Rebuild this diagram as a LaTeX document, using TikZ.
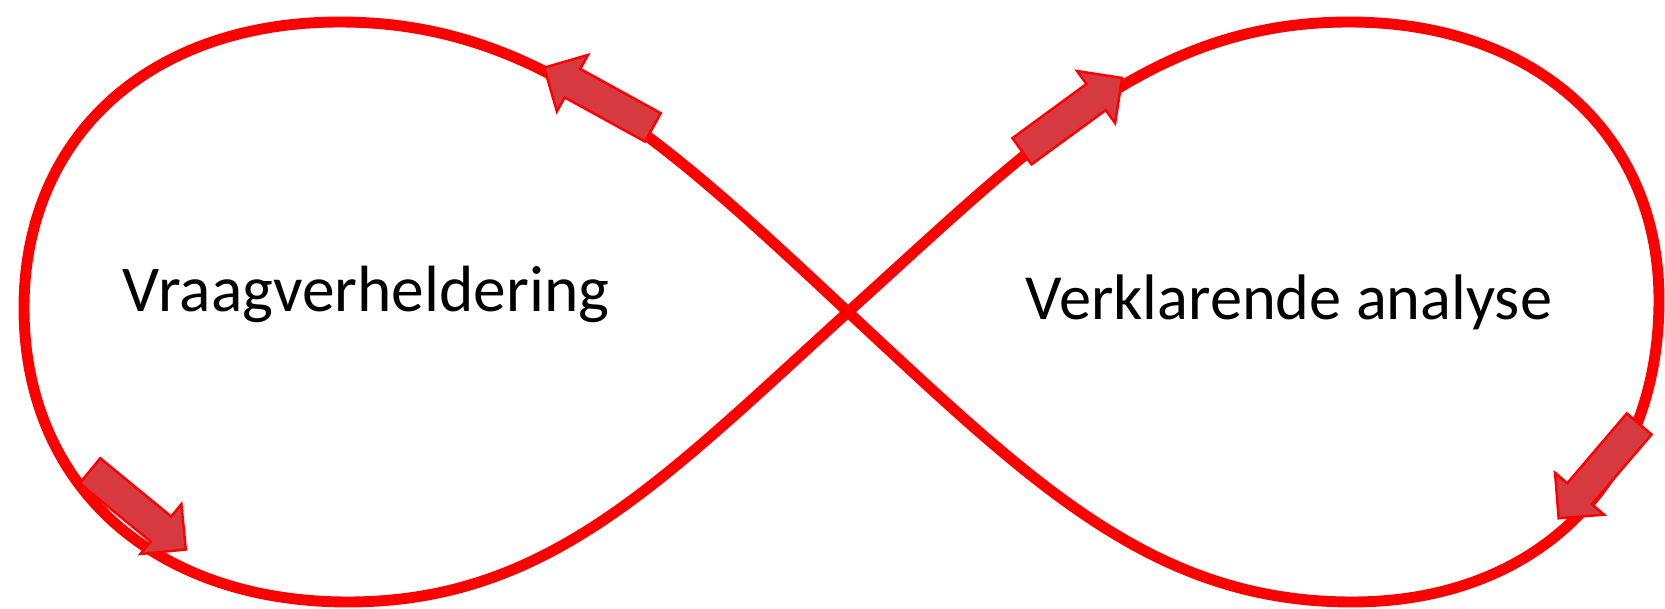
\documentclass[tikz,border=0pt]{standalone}
\usepackage{fontspec}
\setmainfont{Carlito}
\usetikzlibrary{shapes.arrows,positioning}
\definecolor{lusrood}{HTML}{FF0000}
\definecolor{pijlrood}{HTML}{D63A40}
\tikzset{
    lus/.style = {draw=lusrood, line width=3.1pt},
    blokpijl/.style = {single arrow, draw=lusrood, fill=pijlrood, line width=0.7pt,
        inner xsep=0pt, inner ysep=0.15cm, single arrow head extend=0.16cm,
        minimum height=1.24cm, anchor=tail},
    fase/.style = {anchor=base west, inner sep=0pt, font=\fontsize{18.6}{22}\selectfont}
}

\begin{document}
\begin{tikzpicture}[x=0.01cm, y=-0.01cm]
  \useasboundingbox (0,0) rectangle (1665,609);

  % punten van de acht
  \coordinate (kruis) at (848,312);
  \coordinate (ltop) at (340,22);
  \coordinate (lzij) at (24,308);
  \coordinate (lbodem) at (348,602);
  \coordinate (rtop) at (1349,22);
  \coordinate (rzij) at (1659,300);
  \coordinate (rbodem) at (1352,602);

  \path[lus] (kruis) .. controls (666,142) and (538,22) .. (ltop)
    .. controls (150,22) and (24,136) .. (lzij)
    .. controls (24,485) and (153,602) .. (lbodem)
    .. controls (548,602) and (663,480) .. (kruis)
    .. controls (1033,145) and (1149,22) .. (rtop)
    .. controls (1534,22) and (1659,133) .. (rzij)
    .. controls (1659,482) and (1536,602) .. (rbodem)
    .. controls (1152,602) and (1031,482) .. cycle;

  \node[blokpijl, rotate=151.2] (pijlA) at (654,128) {};
  \node[blokpijl, rotate=36.2] (pijlB) at (1021,152) {};
  \node[blokpijl, rotate=-39.4] (pijlC) at (89,470) {};
  \node[blokpijl, rotate=229.5] (pijlD) at (1640,423) {};

  \node[fase] (vraag) at (122,311) {Vraagverheldering};
  \node[fase, font=\fontsize{18.3}{22}\selectfont] (analyse) at (1025,319) {Verklarende analyse};
\end{tikzpicture}
\end{document}
